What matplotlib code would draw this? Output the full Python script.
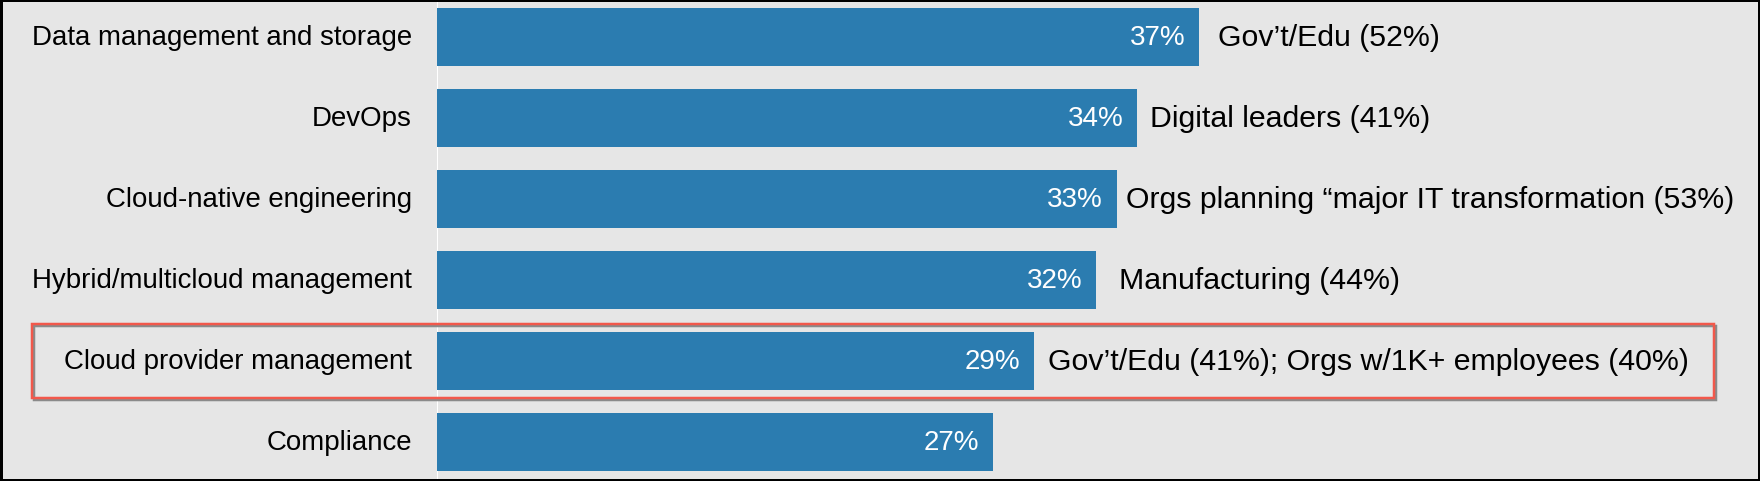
import matplotlib
matplotlib.use("Agg")
import matplotlib.pyplot as plt
from matplotlib.patches import Rectangle
from matplotlib import font_manager
import matplotlib.transforms as mtransforms

# ---- data ----
categories = [
    "Data management and storage",
    "DevOps",
    "Cloud-native engineering",
    "Hybrid/multicloud management",
    "Cloud provider management",
    "Compliance",
]
values = [37, 34, 33, 32, 29, 27]
notes = [
    "Gov\u2019t/Edu (52%)",
    "Digital leaders (41%)",
    "Orgs planning \u201cmajor IT transformation (53%)",
    "Manufacturing (44%)",
    "Gov\u2019t/Edu (41%); Orgs w/1K+ employees (40%)",
    "",
]
highlight = "Cloud provider management"

# ---- style ----
W, H = 1760, 481
DPI = 100
BG = "#e6e6e6"
BAR = "#2b7cb0"
RED = "#f2584b"
PX = 72.0 / DPI  # points per pixel
note_pad_px = [19, 13, 9, 23, 14, 0]

names = {f.name for f in font_manager.fontManager.ttflist}
base_font = "Liberation Sans" if "Liberation Sans" in names else "DejaVu Sans"
narrow_font = "Liberation Sans Narrow" if "Liberation Sans Narrow" in names else base_font
val_size = 24.5 if narrow_font != base_font else 20

fig = plt.figure(figsize=(W / DPI, 4.815), dpi=DPI)
fig.patch.set_facecolor(BG)

x0_px, x1_px = 437, 1757
ax = fig.add_axes([x0_px / W, 0, (x1_px - x0_px) / W, 1])
ax.set_facecolor(BG)
px_per_unit = 20.6
ax.set_xlim(0, (x1_px - x0_px) / px_per_unit)
ax.set_ylim(5.48, -0.465)
for s in ax.spines.values():
    s.set_visible(False)
ax.set_xticks([])
ax.set_yticks([])

ypos = list(range(len(categories)))
ax.axvline(0, color="white", lw=2 * PX, zorder=0.5)
ax.barh(ypos, values, height=0.72, color=BAR, edgecolor="none", zorder=2)

for i, (cat, v, note) in enumerate(zip(categories, values, notes)):
    ax.annotate(cat, xy=(0, i), xytext=(-25 * PX, 0), textcoords="offset points",
                ha="right", va="center", fontsize=19.9, family=base_font,
                color="black", annotation_clip=False, zorder=5)
    ax.annotate(f"{v}%", xy=(v, i), xytext=(-14 * PX, 0), textcoords="offset points",
                ha="right", va="center", fontsize=val_size, family=narrow_font,
                color="white", zorder=5)
    if note:
        ax.annotate(note, xy=(v, i), xytext=(note_pad_px[i] * PX, 0),
                    textcoords="offset points", ha="left", va="center",
                    fontsize=21.8, family=base_font, color="black", zorder=5)

# highlight box around the selected row
hi = categories.index(highlight)
trans = mtransforms.blended_transform_factory(fig.transFigure, ax.transData)
bx0, bx1 = 32 / W, 1714 / W
half = 0.46
shadow_off = mtransforms.offset_copy(trans, fig=fig, x=2 * PX, y=-2 * PX, units="points")
fig.patches.append(Rectangle((bx0, hi + half), bx1 - bx0, -2 * half, transform=shadow_off,
                             fill=False, edgecolor="#8a8a8a", lw=2.5 * PX, zorder=8))
fig.patches.append(Rectangle((bx0, hi + half), bx1 - bx0, -2 * half, transform=trans,
                             fill=False, edgecolor=RED, lw=2.5 * PX, zorder=9))

# outer black frame
fig.patches.append(Rectangle((0, 0), 1, 1, transform=fig.transFigure, fill=False,
                             edgecolor="black", lw=5 * PX, zorder=10))

fig.savefig("out.png", dpi=DPI, facecolor=BG)
